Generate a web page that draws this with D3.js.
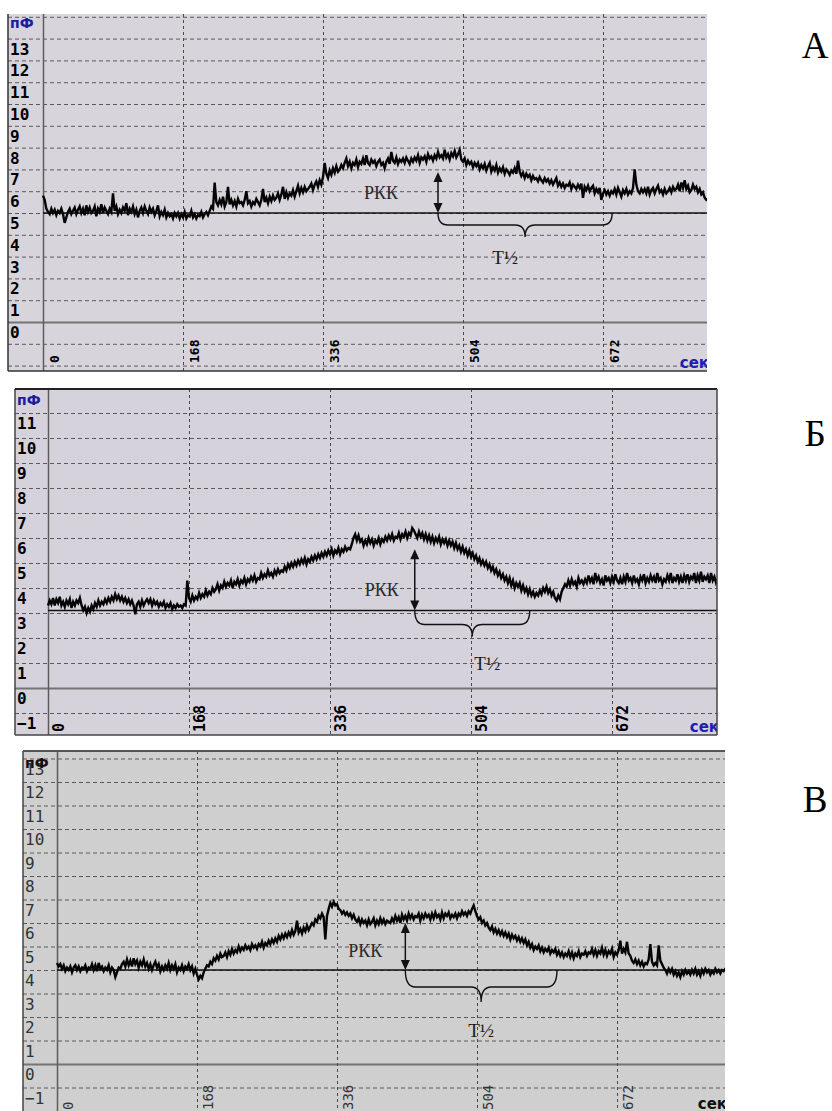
<!DOCTYPE html>
<html><head><meta charset="utf-8">
<script src="https://cdn.jsdelivr.net/npm/d3@7"></script>
<style>body{margin:0;background:#fff}</style>
</head><body>
<svg id="c" width="832" height="1111"></svg>
<script>
// ---------- data ----------
const timeStep = 2; // seconds between samples
const xTicks = [0, 168, 336, 504, 672];
const xUnit = "сек";
const yUnit = "пФ";
const yLabelsA = [0,1,2,3,4,5,6,7,8,9,10,11,12,13];
const yLabelsB = [-1,0,1,2,3,4,5,6,7,8,9,10,11];
const yLabelsC = [-1,0,1,2,3,4,5,6,7,8,9,10,11,12,13];
const panelLetters = ["А", "Б", "В"];
const refLevel = [5.0, 3.1, 4.0];
const pkkTime = [474, 437, 418];
const pkkPeak = [6.88, 5.55, 6.0];
const halfEnd = [683, 574, 600];

const signalA = [
5.8,5.6,5.2,5.05,4.95,5.2,5.0,5.15,4.9,5.1,5.0,5.2,4.95,4.55,4.8,5.05,5.2,4.95,5.1,5.25,
4.95,5.15,5.3,5.0,5.2,4.9,5.35,5.05,5.25,5.0,5.1,5.3,4.85,5.2,5.05,5.4,5.0,5.25,5.1,4.95,
5.2,5.05,5.9,5.1,5.3,4.95,5.15,5.0,5.25,5.1,5.45,4.9,5.2,5.05,5.3,4.95,5.15,4.8,5.1,5.25,
5.0,5.3,5.1,4.95,5.25,5.05,5.2,4.9,5.1,5.35,4.85,5.05,4.9,5.15,4.8,5.0,4.85,4.95,4.75,5.0,
4.85,5.0,4.75,4.95,4.8,5.05,4.75,4.9,4.85,5.1,4.8,4.95,4.75,4.9,4.85,5.05,4.8,4.95,5.05,4.9,
5.1,5.3,5.2,6.4,5.5,5.35,5.6,5.4,5.75,5.3,5.5,6.2,5.4,5.6,5.35,5.55,5.3,5.65,5.45,5.5,
5.35,5.6,6.0,5.45,5.55,5.3,5.5,5.4,5.65,5.5,5.35,5.6,6.1,5.5,5.7,5.45,5.75,5.55,5.8,5.6,
5.7,5.9,5.6,5.85,6.2,5.65,5.95,5.7,5.9,5.8,6.05,5.75,6.0,6.25,5.9,6.15,5.95,6.2,6.0,6.1,
6.2,6.35,6.05,6.3,6.45,6.2,6.5,6.3,6.65,7.3,6.8,6.6,6.95,6.75,7.05,6.85,7.15,6.9,7.0,7.2,
7.05,7.3,7.5,7.15,7.35,7.05,7.3,7.2,7.45,7.1,7.35,7.25,7.5,7.2,7.65,7.3,7.2,7.45,7.3,7.4,
7.15,7.35,7.45,7.2,7.3,7.05,7.35,7.5,7.25,7.8,7.4,7.3,7.55,7.25,7.45,7.35,7.5,7.3,7.55,7.4,
7.25,7.5,7.35,7.55,7.4,7.65,7.3,7.55,7.45,7.6,7.35,7.7,7.5,7.6,7.4,7.65,7.5,7.8,7.55,7.65,
7.5,7.9,7.55,7.7,7.45,7.75,7.6,7.85,7.55,7.7,7.9,7.45,7.35,7.5,7.2,7.4,7.25,7.35,7.1,7.3,
7.15,7.3,7.0,7.2,7.05,7.25,6.95,7.15,7.3,6.9,7.1,6.95,7.2,6.85,7.05,6.9,7.1,6.8,7.0,6.9,
6.75,6.95,6.85,7.05,6.8,7.4,6.9,6.7,6.85,6.6,6.8,6.65,6.75,6.5,6.7,6.55,6.6,6.45,6.65,6.5,
6.4,6.6,6.45,6.55,6.35,6.5,6.3,6.45,6.6,6.25,6.4,6.2,6.35,6.15,6.3,6.25,6.4,6.1,6.3,6.2,
6.1,6.3,6.15,6.35,5.7,6.2,6.05,6.25,6.0,6.15,6.25,5.9,6.1,5.95,6.15,5.6,5.9,6.05,5.85,6.0,
5.8,6.0,5.9,6.1,5.85,6.15,5.95,5.75,6.05,5.9,6.1,5.85,6.0,5.9,6.15,7.0,6.3,6.0,5.9,6.1,
5.95,6.1,5.9,6.2,5.85,6.05,6.15,5.9,6.1,6.25,5.95,6.05,5.85,6.1,5.9,6.0,6.15,5.95,6.2,6.05,
6.1,6.3,6.0,6.4,6.15,6.5,6.1,6.25,5.95,6.05,6.3,6.1,6.2,5.95,6.1,5.85,5.95,5.7,5.6,5.65
];
const signalB = [
3.3,3.5,3.35,3.6,3.3,3.55,3.4,3.65,3.3,3.45,3.25,3.5,3.35,3.55,3.2,3.45,3.3,3.5,3.4,3.6,
3.3,3.1,3.25,3.0,3.2,3.05,3.3,3.15,3.4,3.25,3.5,3.3,3.45,3.35,3.55,3.4,3.6,3.45,3.65,3.5,
3.75,3.55,3.7,3.5,3.65,3.45,3.6,3.4,3.55,3.35,3.5,3.3,2.95,3.35,3.45,3.25,3.5,3.3,3.45,3.55,
3.4,3.55,3.3,3.5,3.35,3.45,3.25,3.4,3.3,3.45,3.2,3.35,3.25,3.4,3.15,3.3,3.2,3.35,3.25,3.3,
3.2,3.35,3.3,4.3,3.6,3.45,3.7,3.5,3.65,3.55,3.8,3.6,3.75,3.65,3.9,3.7,3.85,3.75,4.0,3.85,
3.95,4.15,3.9,4.1,4.0,4.25,4.05,4.2,4.1,4.3,4.0,4.25,4.15,4.35,4.1,4.3,4.2,4.4,4.15,4.35,
4.25,4.45,4.3,4.5,4.25,4.4,4.35,4.6,4.4,4.55,4.45,4.7,4.5,4.6,4.45,4.7,4.55,4.75,4.6,4.7,
4.65,4.85,4.7,4.95,4.8,5.0,4.85,5.05,4.9,5.1,4.95,5.15,5.0,5.2,4.95,5.15,5.05,5.25,5.1,5.3,
5.15,5.35,5.2,5.4,5.25,5.45,5.3,5.5,5.35,5.55,5.3,5.5,5.4,5.6,5.35,5.55,5.45,5.65,5.5,5.6,
5.55,5.75,6.0,6.15,5.9,6.1,5.85,5.95,5.7,5.9,5.75,6.0,5.8,5.95,5.7,5.9,5.8,6.0,5.75,5.95,
5.85,6.05,5.9,6.1,5.95,6.15,5.9,6.05,6.0,6.2,5.95,6.15,6.05,6.25,6.0,6.2,6.1,6.4,6.3,6.15,
6.0,6.25,6.05,6.2,5.95,6.15,5.9,6.1,5.85,6.05,5.8,6.0,5.85,6.05,5.75,5.95,5.8,5.95,5.7,5.9,
5.7,5.85,5.6,5.8,5.55,5.7,5.45,5.65,5.4,5.55,5.3,5.5,5.25,5.4,5.15,5.3,5.05,5.2,4.95,5.1,
4.9,5.05,4.8,4.95,4.7,4.85,4.6,4.75,4.5,4.65,4.4,4.55,4.3,4.45,4.2,4.4,4.1,4.3,4.0,4.2,
4.05,4.2,3.9,4.1,3.85,4.0,3.75,3.95,3.7,3.85,3.65,3.8,3.7,3.9,3.75,4.0,3.85,4.05,3.8,3.95,
3.7,3.85,3.6,3.5,3.7,3.55,3.85,4.0,4.15,4.05,4.3,4.1,4.35,4.15,4.25,4.05,4.4,4.2,4.3,4.15,
4.35,4.2,4.5,4.25,4.4,4.15,4.6,4.3,4.45,4.2,4.35,4.1,4.5,4.3,4.4,4.2,4.45,4.25,4.55,4.3,
4.2,4.4,4.15,4.45,4.25,4.6,4.3,4.4,4.2,4.5,4.25,4.35,4.15,4.45,4.3,4.55,4.2,4.4,4.25,4.5,
4.3,4.45,4.2,4.6,4.3,4.4,4.15,4.35,4.25,4.5,4.3,4.6,4.2,4.4,4.3,4.55,4.25,4.45,4.2,4.5,
4.3,4.55,4.25,4.45,4.35,4.6,4.2,4.5,4.3,4.65,4.25,4.45,4.35,4.5,4.2,4.6,4.3,4.45,4.2,4.35
];
const signalC = [
4.3,4.15,4.25,4.05,4.2,3.95,4.1,4.0,4.15,3.9,4.1,4.2,4.0,4.15,3.95,4.1,4.05,4.2,3.95,4.1,
4.05,4.25,4.0,4.2,3.95,4.3,4.05,4.15,3.95,4.1,4.0,4.2,3.9,4.1,4.0,3.7,3.9,4.1,4.05,4.25,
4.35,4.15,4.45,4.2,4.4,4.15,4.5,4.25,4.4,4.1,4.35,4.2,4.45,4.15,4.3,4.05,4.25,4.0,4.2,4.35,
4.1,4.25,3.95,4.15,4.0,4.2,4.05,4.3,4.0,4.2,4.05,4.25,3.9,4.1,4.0,4.2,3.95,4.15,4.05,4.25,
4.0,4.15,3.85,4.05,3.8,3.6,3.75,3.65,3.9,4.05,4.2,4.15,4.35,4.25,4.5,4.4,4.6,4.45,4.7,4.55,
4.6,4.75,4.55,4.8,4.65,4.9,4.7,4.85,4.75,5.0,4.8,4.95,4.85,5.05,4.9,5.0,4.85,5.1,4.95,5.05,
4.9,5.1,5.0,5.2,4.95,5.15,5.05,5.25,5.1,5.3,5.15,5.35,5.2,5.45,5.3,5.5,5.35,5.55,5.4,5.6,
5.45,5.7,5.5,5.65,6.1,5.6,5.75,5.55,5.8,5.65,5.9,5.7,5.85,6.0,5.9,6.15,6.05,6.3,6.2,6.4,
6.25,5.3,6.3,6.6,6.85,6.7,6.9,6.75,6.8,6.6,6.55,6.4,6.5,6.35,6.45,6.3,6.4,6.2,6.35,6.15,
6.05,6.2,5.95,6.15,6.0,6.1,5.9,6.15,5.95,6.05,6.2,5.9,6.1,5.95,6.2,6.0,6.15,5.95,6.1,6.05,
6.0,6.2,6.05,6.3,6.1,6.25,6.0,6.35,6.15,6.3,6.1,6.4,6.2,6.35,6.15,6.3,6.25,6.4,6.1,6.35,
6.2,6.4,6.25,6.35,6.15,6.4,6.2,6.45,6.25,6.35,6.15,6.45,6.2,6.4,6.3,6.45,6.2,6.35,6.25,6.4,
6.2,6.4,6.3,6.5,6.35,6.45,6.3,6.5,6.4,6.6,6.75,6.5,6.3,6.15,6.25,6.0,6.1,5.9,6.0,5.8,
5.7,5.85,5.6,5.75,5.55,5.7,5.5,5.65,5.45,5.6,5.4,5.55,5.3,5.5,5.35,5.45,5.25,5.4,5.2,5.35,
5.15,5.3,5.05,5.2,4.95,5.1,4.85,5.0,4.9,5.05,4.8,4.95,4.75,4.9,4.8,4.95,4.7,4.85,4.75,4.9,
4.65,4.8,4.6,4.75,4.55,4.7,4.6,4.8,4.55,4.75,4.5,4.7,4.6,4.8,4.55,4.7,4.65,4.8,4.6,4.75,
4.7,4.9,4.65,4.85,4.6,4.8,4.7,4.95,4.65,4.85,4.6,4.8,4.7,4.9,4.55,4.75,4.65,4.85,5.25,4.7,
4.9,4.75,5.2,4.7,4.6,4.4,4.3,4.45,4.25,4.4,4.2,4.35,4.15,4.3,4.25,4.45,5.1,4.35,4.2,4.3,
4.2,5.05,4.4,4.25,4.1,4.0,3.85,4.05,3.9,4.05,3.8,3.95,3.75,3.9,3.7,3.95,3.8,4.0,3.85,3.95,
3.8,4.0,3.85,4.05,3.8,3.95,3.75,4.0,3.85,4.05,3.9,4.0,3.8,3.95,3.85,4.05,3.9,4.0,3.85,4.0,
3.95,4.05,3.9,4.0
];

// ---------- layout ----------
const panels = [
  {data: signalA, labels: yLabelsA, left: 8, right: 707, top: 14, bottom: 371, axisX: 43, span: 140,
   zeroY: 322, unit: 21.8, vMin: -2, vMax: 14, bg: "#d7d4dc", bold: true, tickFill: "#000",
   unitFill: "#1c1c9c", xFont: 13, yFont: 16, labelX: 10, unitDy: 14, secY: 368, xLabBase: 363,
   pkkDx: -57, pkkDy: 6, braceH: 12, braceTip: 12, halfDx: -20, halfY: 264, letterY: 58,
   frame: {left: "#333", bottom: "#333"}},
  {data: signalB, labels: yLabelsB, left: 15, right: 717, top: 389, bottom: 735, axisX: 48, span: 141,
   zeroY: 688, unit: 25, vMin: -1, vMax: 12, bg: "#d6d2dc", bold: true, tickFill: "#000",
   unitFill: "#1c1c9c", xFont: 15, yFont: 16, labelX: 17, unitDy: 16, secY: 732, xLabBase: 732,
   pkkDx: -33, pkkDy: 16, braceH: 14, braceTip: 12, halfDx: 15, halfY: 670, letterY: 446,
   frame: {left: "#444", top: "#222", right: "#444", bottom: "#444"}},
  {data: signalC, labels: yLabelsC, left: 23, right: 725, top: 751, bottom: 1125, axisX: 57, span: 140,
   zeroY: 1064, unit: 23.5, vMin: -1, vMax: 13, bg: "#cfcfcf", bold: false, tickFill: "#333",
   unitFill: "#111", xFont: 14, yFont: 16, labelX: 25, unitDy: 17, secY: 1109, xLabBase: 1110,
   pkkDx: -40, pkkDy: 10, braceH: 17, braceTip: 15, halfDx: 0, halfY: 1037, letterY: 812,
   frame: {left: "#444", top: "#555"}}
];

const svg = d3.select("#c");
const defs = svg.append("defs");

panels.forEach((p, k) => {
  const x = d3.scaleLinear().domain([0, 168]).range([p.axisX, p.axisX + p.span]);
  const y = d3.scaleLinear().domain([0, 1]).range([p.zeroY, p.zeroY - p.unit]);
  const g = svg.append("g");
  const clipId = "clip" + k;
  defs.append("clipPath").attr("id", clipId).append("rect")
    .attr("x", p.left).attr("y", p.top).attr("width", p.right - p.left).attr("height", p.bottom - p.top);

  g.append("rect").attr("x", p.left).attr("y", p.top).attr("width", p.right - p.left)
    .attr("height", p.bottom - p.top).attr("fill", p.bg);

  const inner = g.append("g").attr("clip-path", `url(#${clipId})`);

  // horizontal grid
  const hv = d3.range(p.vMin, p.vMax + 1);
  inner.selectAll(".hg").data(hv).join("line")
    .attr("x1", p.left).attr("x2", p.right)
    .attr("y1", d => y(d) + 0.5).attr("y2", d => y(d) + 0.5)
    .attr("stroke", d => d === 0 ? "#747474" : "#5a5a5a")
    .attr("stroke-width", d => d === 0 ? 2 : 1)
    .attr("stroke-dasharray", d => d === 0 ? null : "4,3");

  // vertical grid
  inner.selectAll(".vg").data(xTicks).join("line")
    .attr("x1", d => x(d) + 0.5).attr("x2", d => x(d) + 0.5)
    .attr("y1", p.top).attr("y2", p.bottom)
    .attr("stroke", d => d === 0 ? "#5c5c5c" : "#4a4a4a")
    .attr("stroke-width", d => d === 0 ? 1.5 : 1)
    .attr("stroke-dasharray", d => d === 0 ? null : "3,3");

  // y labels
  const fw = p.bold ? "bold" : "normal";
  inner.selectAll(".yl").data(p.labels).join("text")
    .attr("x", p.labelX).attr("y", d => y(d) + 16)
    .attr("font-family", "DejaVu Sans Mono, monospace").attr("font-size", p.yFont)
    .attr("font-weight", fw).attr("fill", p.tickFill)
    .text(d => d < 0 ? "−" + Math.abs(d) : d);
  inner.append("text").attr("x", p.labelX).attr("y", p.top + p.unitDy)
    .attr("font-family", "DejaVu Sans, sans-serif").attr("font-size", 14)
    .attr("font-weight", "bold").attr("fill", p.unitFill).text(yUnit);

  // x labels (rotated)
  svg.selectAll(".xl" + k).data(xTicks).join("text")
    .attr("transform", d => `translate(${x(d) + 16},${p.xLabBase}) rotate(-90)`)
    .attr("font-family", "DejaVu Sans Mono, monospace").attr("font-size", p.xFont)
    .attr("font-weight", fw).attr("fill", p.tickFill)
    .text(d => d);
  inner.append("text").attr("x", p.right + 2).attr("y", p.secY)
    .attr("text-anchor", "end").attr("font-family", "DejaVu Sans, sans-serif")
    .attr("font-size", 15).attr("font-weight", "bold")
    .attr("fill", k === 2 ? "#111" : "#2020b0").text(xUnit);

  // reference level line
  inner.append("line").attr("x1", x(0)).attr("x2", p.right)
    .attr("y1", y(refLevel[k])).attr("y2", y(refLevel[k]))
    .attr("stroke", "#111").attr("stroke-width", 1.5);

  // signal
  const line = d3.line().x((d, i) => x(i * timeStep)).y(d => y(d));
  inner.append("path").datum(p.data).attr("d", line)
    .attr("fill", "none").attr("stroke", "#050505").attr("stroke-width", 2.4)
    .attr("stroke-linejoin", "miter");

  // РКК arrow
  const ax = x(pkkTime[k]), ay1 = y(pkkPeak[k]), ay2 = y(refLevel[k]);
  inner.append("line").attr("x1", ax).attr("x2", ax).attr("y1", ay1 + 8).attr("y2", ay2 - 8)
    .attr("stroke", "#111").attr("stroke-width", 1.5);
  inner.append("path").attr("d", `M${ax},${ay1} L${ax - 4.5},${ay1 + 10} L${ax + 4.5},${ay1 + 10} Z`).attr("fill", "#111");
  inner.append("path").attr("d", `M${ax},${ay2} L${ax - 4.5},${ay2 - 10} L${ax + 4.5},${ay2 - 10} Z`).attr("fill", "#111");
  inner.append("text").attr("x", ax + p.pkkDx).attr("y", (ay1 + ay2) / 2 + p.pkkDy)
    .attr("text-anchor", "middle").attr("font-family", "Liberation Serif, serif")
    .attr("font-size", 18).attr("fill", "#2a2a2a").text("РКК");

  // T½ brace
  const bx1 = ax, bx2 = x(halfEnd[k]), bm = (bx1 + bx2) / 2, by = ay2, h = p.braceH, t = p.braceTip, r = 10;
  inner.append("path")
    .attr("d", `M${bx1},${by} Q${bx1},${by + h} ${bx1 + r},${by + h} L${bm - r},${by + h} Q${bm},${by + h} ${bm},${by + h + t} ` +
               `Q${bm},${by + h} ${bm + r},${by + h} L${bx2 - r},${by + h} Q${bx2},${by + h} ${bx2},${by}`)
    .attr("fill", "none").attr("stroke", "#111").attr("stroke-width", 1.4);
  inner.append("text").attr("x", bm + p.halfDx).attr("y", p.halfY)
    .attr("text-anchor", "middle").attr("font-family", "Liberation Serif, serif")
    .attr("font-size", 19).attr("fill", "#1a1a1a").text("T½");

  // frame
  const f = p.frame;
  if (f.left) g.append("line").attr("x1", p.left).attr("x2", p.left).attr("y1", p.top).attr("y2", Math.min(p.bottom, 1111)).attr("stroke", f.left).attr("stroke-width", 1.5);
  if (f.top) g.append("line").attr("x1", p.left).attr("x2", p.right).attr("y1", p.top).attr("y2", p.top).attr("stroke", f.top).attr("stroke-width", 2);
  if (f.right) g.append("line").attr("x1", p.right).attr("x2", p.right).attr("y1", p.top).attr("y2", p.bottom).attr("stroke", f.right).attr("stroke-width", 1.5);
  if (f.bottom) g.append("line").attr("x1", p.left).attr("x2", p.right).attr("y1", p.bottom).attr("y2", p.bottom).attr("stroke", f.bottom).attr("stroke-width", 1.5);

  // panel letter
  svg.append("text").attr("x", 815).attr("y", p.letterY).attr("text-anchor", "middle")
    .attr("font-family", "Liberation Serif, serif").attr("font-size", 37).attr("fill", "#000")
    .text(panelLetters[k]);
});
</script>
</body></html>
